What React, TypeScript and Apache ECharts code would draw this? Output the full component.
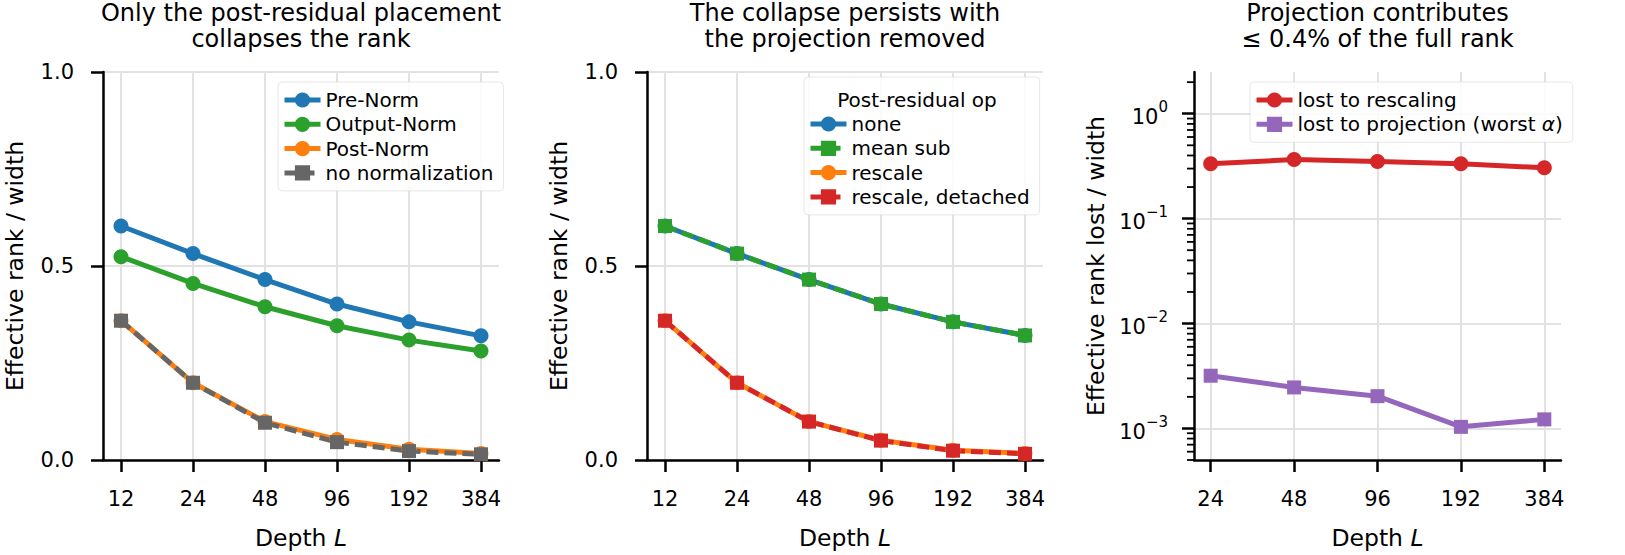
import React, { useEffect, useRef } from 'react';
import * as echarts from 'echarts';

// ---------- data ----------
const depthsAB = [12, 24, 48, 96, 192, 384];
const depthsC = [24, 48, 96, 192, 384];

// Panel A: normalization placement
const preNorm = [0.603, 0.532, 0.465, 0.402, 0.356, 0.32];
const outputNorm = [0.524, 0.455, 0.395, 0.346, 0.309, 0.281];
const postNorm = [0.359, 0.199, 0.099, 0.053, 0.0275, 0.017];
const noNorm = [0.359, 0.199, 0.096, 0.046, 0.023, 0.0147];

// Panel B: post-residual op
const opNone = [0.603, 0.532, 0.465, 0.402, 0.356, 0.321];
const opMeanSub = [0.603, 0.532, 0.465, 0.402, 0.356, 0.321];
const opRescale = [0.359, 0.199, 0.099, 0.051, 0.025, 0.017];
const opRescaleDetached = [0.359, 0.199, 0.099, 0.05, 0.024, 0.016];

// Panel C: rank lost
const lostRescaling = [0.333, 0.366, 0.351, 0.333, 0.305];
const lostProjection = [0.00318, 0.00246, 0.00203, 0.001035, 0.00122];

// ticks
const logMajorTicks = [1e-3, 1e-2, 1e-1, 1];
const logMinorTicks = [
  5e-4, 6e-4, 7e-4, 8e-4, 9e-4,
  2e-3, 3e-3, 4e-3, 5e-3, 6e-3, 7e-3, 8e-3, 9e-3,
  2e-2, 3e-2, 4e-2, 5e-2, 6e-2, 7e-2, 8e-2, 9e-2,
  0.2, 0.3, 0.4, 0.5, 0.6, 0.7, 0.8, 0.9,
  2,
];

const titles = [
  'Only the post-residual placement\ncollapses the rank',
  'The collapse persists with\nthe projection removed',
  'Projection contributes\n≤ 0.4% of the full rank',
];

const C = {
  blue: '#1f77b4',
  orange: '#ff7f0e',
  green: '#2ca02c',
  red: '#d62728',
  purple: '#9467bd',
  gray: '#666666',
};

const FONT = 'DejaVu Sans';
const GRID_COLOR = '#e2e2e2';
const LW = 5;

const grids = [
  { left: 103, top: 72, width: 396, height: 388 },
  { left: 647, top: 72, width: 396, height: 388 },
  { left: 1194, top: 72, width: 367, height: 388 },
];

const xMinAB = 12 * Math.pow(2, -0.25);
const xMaxAB = 384 * Math.pow(2, 0.25);
const xMinC = 24 * Math.pow(2, -0.2);
const xMaxC = 384 * Math.pow(2, 0.2);

function pairs(xs: number[], ys: number[]) {
  return xs.map((x, i) => [x, ys[i]]);
}

function lineSeries(
  name: string,
  gi: number,
  xs: number[],
  ys: number[],
  color: string,
  symbol: string,
  dashed: boolean
) {
  return {
    type: 'line',
    name,
    xAxisIndex: gi,
    yAxisIndex: gi,
    data: pairs(xs, ys),
    symbol,
    symbolSize: symbol === 'rect' ? 14 : 15,
    showSymbol: true,
    color,
    lineStyle: { color, width: LW, type: dashed ? [12, 6] : 'solid' },
    itemStyle: { color },
    emphasis: { disabled: true },
    z: 2,
  };
}

function xAxis(gi: number, ticks: number[], min: number, max: number) {
  return {
    type: 'log',
    logBase: 2,
    gridIndex: gi,
    min,
    max,
    axisLine: { onZero: false, lineStyle: { color: '#000', width: 2.5 } },
    axisTick: { customValues: ticks, length: 12, lineStyle: { color: '#000', width: 2.5 } },
    axisLabel: {
      customValues: ticks,
      margin: 28,
      fontSize: 21,
      color: '#000',
      fontFamily: FONT,
      formatter: (v: number) => String(Math.round(v)),
    },
    splitLine: { show: true, lineStyle: { color: GRID_COLOR, width: 2 } },
    minorTick: { show: false },
    minorSplitLine: { show: false },
    name: 'Depth {i|L}',
    nameLocation: 'middle',
    nameGap: 66,
    nameTextStyle: {
      fontSize: 23.5,
      color: '#000',
      fontFamily: FONT,
      rich: { i: { fontSize: 23.5, fontStyle: 'italic', color: '#000', fontFamily: FONT } },
    },
  };
}

function linYAxis(gi: number) {
  return {
    type: 'value',
    gridIndex: gi,
    min: 0,
    max: 1,
    interval: 0.5,
    axisLine: { show: true, lineStyle: { color: '#000', width: 2.5 } },
    axisTick: { show: true, length: 12, lineStyle: { color: '#000', width: 2.5 } },
    axisLabel: {
      margin: 29,
      fontSize: 21,
      color: '#000',
      fontFamily: FONT,
      formatter: (v: number) => v.toFixed(1),
    },
    splitLine: { show: true, lineStyle: { color: GRID_COLOR, width: 2 } },
    name: 'Effective rank / width',
    nameLocation: 'middle',
    nameGap: 76,
    nameTextStyle: { fontSize: 23.5, color: '#000', fontFamily: FONT },
  };
}

function supLabel(v: number) {
  const e = Math.round(Math.log10(v));
  const s = e < 0 ? '\u2212' + Math.abs(e) : String(e);
  return '{b|10}{s|' + s + '}';
}

function legendCommon(left: number, top: number, padding: number[], data: string[]) {
  return {
    orient: 'vertical',
    left,
    top,
    padding,
    itemGap: 4.3,
    itemWidth: 36,
    itemHeight: 19,
    selectedMode: false,
    backgroundColor: 'rgba(255,255,255,0.85)',
    borderColor: 'rgba(215,215,215,0.6)',
    borderWidth: 1,
    borderRadius: 4,
    lineStyle: { width: LW },
    data,
    textStyle: { fontSize: 20, lineHeight: 20, color: '#000', fontFamily: FONT },
  };
}

export default function App() {
  const ref = useRef<HTMLDivElement>(null);

  useEffect(() => {
    if (!ref.current) return;
    const chart = echarts.init(ref.current, undefined, { renderer: 'svg' });

    const option: any = {
      animation: false,
      backgroundColor: '#ffffff',
      textStyle: { fontFamily: FONT },
      title: [
        ...titles.map((t, i) => ({
          text: t,
          left: grids[i].left + grids[i].width / 2,
          top: 0,
          padding: 0,
          textAlign: 'center',
          textStyle: { fontSize: 24, lineHeight: 26, fontWeight: 'normal', color: '#000', fontFamily: FONT },
        })),
        {
          text: 'Post-residual op',
          left: 917,
          top: 90,
          padding: 0,
          textAlign: 'center',
          textStyle: { fontSize: 20, lineHeight: 20, fontWeight: 'normal', color: '#000', fontFamily: FONT },
        },
      ],
      grid: grids.map((g) => ({ ...g, containLabel: false })),
      xAxis: [
        xAxis(0, depthsAB, xMinAB, xMaxAB),
        xAxis(1, depthsAB, xMinAB, xMaxAB),
        xAxis(2, depthsC, xMinC, xMaxC),
      ],
      yAxis: [
        linYAxis(0),
        linYAxis(1),
        {
          type: 'log',
          logBase: 10,
          gridIndex: 2,
          min: 5e-4,
          max: 2.5,
          axisLine: { show: true, onZero: false, lineStyle: { color: '#000', width: 2.5 } },
          axisTick: { customValues: logMajorTicks, length: 12, lineStyle: { color: '#000', width: 2.5 } },
          axisLabel: {
            customValues: logMajorTicks,
            margin: 26,
            color: '#000',
            fontFamily: FONT,
            formatter: supLabel,
            rich: {
              b: { fontSize: 21, lineHeight: 28, verticalAlign: 'bottom', color: '#000', fontFamily: FONT },
              s: { fontSize: 15, lineHeight: 14, verticalAlign: 'top', color: '#000', fontFamily: FONT },
            },
          },
          splitLine: { show: true, lineStyle: { color: GRID_COLOR, width: 2 } },
          minorTick: { show: false },
          name: 'Effective rank lost / width',
          nameLocation: 'middle',
          nameGap: 86,
          nameTextStyle: { fontSize: 23.5, color: '#000', fontFamily: FONT },
        },
      ],
      legend: [
        legendCommon(278, 82, [8, 10, 8, 4], ['Pre-Norm', 'Output-Norm', 'Post-Norm', 'no normalization']),
        legendCommon(804, 77, [37, 10, 8, 4], ['none', 'mean sub', 'rescale', 'rescale, detached']),
        {
          ...legendCommon(1250, 82, [8, 10, 8, 4], ['lost to rescaling', 'lost to projection (worst α)']),
          formatter: (n: string) => (n.indexOf('α') >= 0 ? 'lost to projection (worst {a|α})' : n),
          textStyle: {
            fontSize: 20,
            lineHeight: 20,
            color: '#000',
            fontFamily: FONT,
            rich: { a: { fontSize: 20, fontStyle: 'italic', color: '#000', fontFamily: FONT } },
          },
        },
      ],
      series: [
        lineSeries('Pre-Norm', 0, depthsAB, preNorm, C.blue, 'circle', false),
        lineSeries('Output-Norm', 0, depthsAB, outputNorm, C.green, 'circle', false),
        lineSeries('Post-Norm', 0, depthsAB, postNorm, C.orange, 'circle', false),
        lineSeries('no normalization', 0, depthsAB, noNorm, C.gray, 'rect', true),
        lineSeries('none', 1, depthsAB, opNone, C.blue, 'circle', false),
        lineSeries('mean sub', 1, depthsAB, opMeanSub, C.green, 'rect', true),
        lineSeries('rescale', 1, depthsAB, opRescale, C.orange, 'circle', false),
        lineSeries('rescale, detached', 1, depthsAB, opRescaleDetached, C.red, 'rect', true),
        lineSeries('lost to rescaling', 2, depthsC, lostRescaling, C.red, 'circle', false),
        lineSeries('lost to projection (worst α)', 2, depthsC, lostProjection, C.purple, 'rect', false),
        {
          type: 'custom',
          name: 'minor ticks',
          xAxisIndex: 2,
          yAxisIndex: 2,
          clip: false,
          silent: true,
          z: 3,
          data: logMinorTicks.map((v) => [xMinC, v]),
          renderItem: (params: any, api: any) => {
            const p = api.coord([api.value(0), api.value(1)]);
            return {
              type: 'line',
              shape: { x1: p[0] - 7, y1: p[1], x2: p[0], y2: p[1] },
              style: { stroke: '#000', lineWidth: 1.8 },
            };
          },
        },
      ],
    };

    chart.setOption(option);
    return () => chart.dispose();
  }, []);

  return (
    <div
      ref={ref}
      style={{ position: 'fixed', left: 0, top: 0, width: 1625, height: 555, background: '#fff' }}
    />
  );
}
